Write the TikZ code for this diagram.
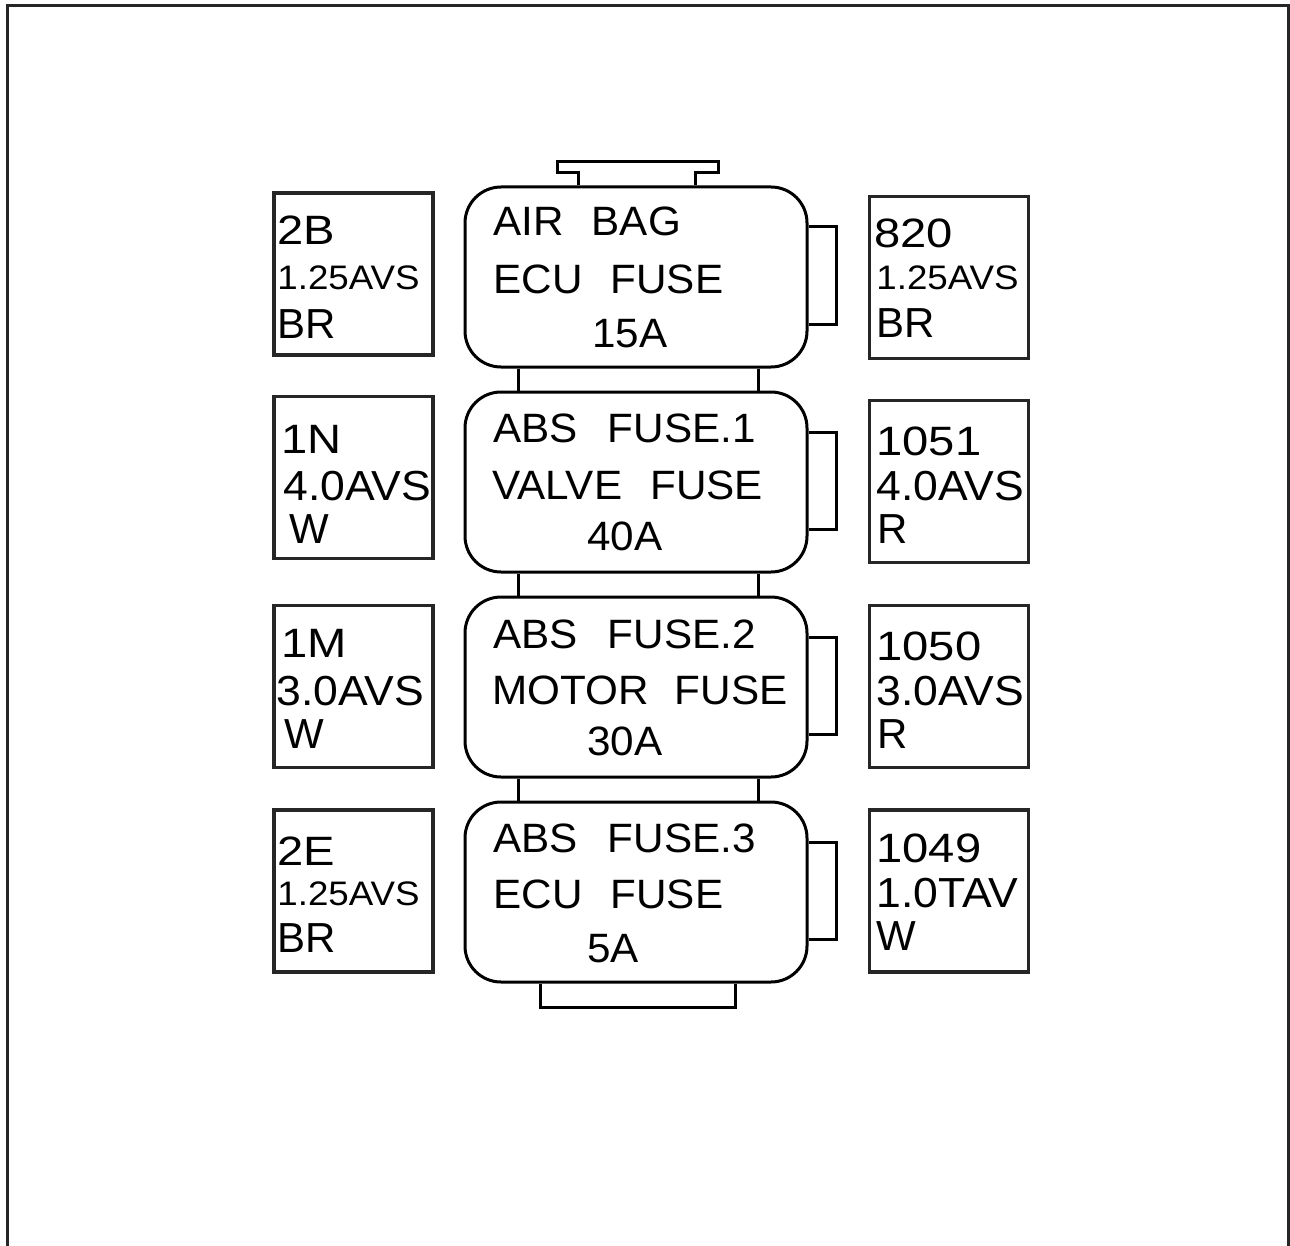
\documentclass[tikz,border=0pt]{standalone}
\usepackage{fontspec}
\setmainfont{Liberation Sans}
\newfontfamily\fuseface[FakeStretch=1.03]{Liberation Sans}
\newfontfamily\idface[FakeStretch=1.15]{Liberation Sans}
\newfontfamily\gaugeface[FakeStretch=1.06]{Liberation Sans}
\newfontfamily\smallface[FakeStretch=1.08]{Liberation Sans}
\begin{document}
\begin{tikzpicture}[x=0.5pt,y=-0.5pt,
  fuse/.style={draw, line width=1.5pt, rounded corners=18pt, minimum width=171pt, minimum height=90pt, inner sep=0pt},
  wbox/.style={draw=black!85, line width=1.7pt, minimum width=79.5pt, minimum height=81pt, inner sep=0pt},
  tab/.style={draw, line width=1.5pt, line join=miter},
  lbl/.style={anchor=base west, inner sep=0pt, font=\fuseface\fontsize{20.5}{24}\selectfont},
  idl/.style={anchor=base west, inner sep=0pt, font=\idface\fontsize{20.5}{24}\selectfont},
  big/.style={anchor=base west, inner sep=0pt, font=\gaugeface\fontsize{21}{24}\selectfont},
  col/.style={anchor=base west, inner sep=0pt, font=\fontsize{21}{24}\selectfont},
  small/.style={anchor=base west, inner sep=0pt, font=\smallface\fontsize{17}{20}\selectfont},
  frame/.style={draw=black!85, line width=1.5pt}]
\useasboundingbox (0,0) rectangle (1290,1246);
% outer frame (open at bottom)
\draw[frame] (7,1246) -- (7,6) -- (1288,6) -- (1288,1246);

% fuses
\node[fuse] (f1) at (636,277) {};
\node[fuse] (f2) at (636,482) {};
\node[fuse] (f3) at (636,687) {};
\node[fuse] (f4) at (636,892) {};

% connectors between fuses
\coordinate (cl) at (518,0);
\coordinate (cr) at (758,0);
\foreach \a/\b in {f1/f2,f2/f3,f3/f4}{
  \draw[tab] (\a.south -| cl) -- (\b.north -| cl);
  \draw[tab] (\a.south -| cr) -- (\b.north -| cr);
}

% top tab
\draw[tab] (f1.north -| 578,0) -- (578,173) -- (557,173) -- (557,162) -- (718,162) -- (718,173) -- (695,173) -- (f1.north -| 695,0);
% bottom tab
\draw[tab] (f4.south -| 540,0) -- (540,1007) -- (735,1007) -- (f4.south -| 735,0);

% right side tabs
\foreach \f in {f1,f2,f3,f4}{
  \draw[tab] ([yshift=25pt]\f.east) -- ++(28,0) -- ++(0,97) -- ++(-28,0);
}

% fuse labels
\node[lbl] (t1a) at (493,235) {AIR\hspace{14pt}BAG};
\node[lbl] (t1b) at (493,293) {ECU\hspace{14pt}FUSE};
\node[lbl] (t1c) at (592,347) {15A};
\node[lbl] (t2a) at (493,442) {ABS\hspace{15pt}FUSE.1};
\node[lbl] (t2b) at (492,499) {VALVE\hspace{14pt}FUSE};
\node[lbl] (t2c) at (587,550) {40A};
\node[lbl] (t3a) at (493,648) {ABS\hspace{15pt}FUSE.2};
\node[lbl] (t3b) at (492,704) {MOTOR\hspace{13pt}FUSE};
\node[lbl] (t3c) at (587,755) {30A};
\node[lbl] (t4a) at (493,852) {ABS\hspace{15pt}FUSE.3};
\node[lbl] (t4b) at (493,908) {ECU\hspace{14pt}FUSE};
\node[lbl] (t4c) at (587,962) {5A};

% left wire boxes
\node[wbox] (l1) at (353.5,274) {};
\node[wbox] (l2) at (353.5,477.5) {};
\node[wbox] (l3) at (353.5,686.5) {};
\node[wbox] (l4) at (353.5,891) {};
% right wire boxes
\node[wbox] (r1) at (949,277.5) {};
\node[wbox] (r2) at (949,481.5) {};
\node[wbox] (r3) at (949,686.5) {};
\node[wbox] (r4) at (949,891) {};

% left box texts
\node[idl] (l1a) at (277,245) {2B};
\node[small] (l1b) at (277,290) {1.25AVS};
\node[col] (l1c) at (277,338) {BR};
\node[idl] (l2a) at (281,453) {1N};
\node[big] (l2b) at (283,500) {4.0AVS};
\node[col] (l2c) at (289,543) {W};
\node[idl] (l3a) at (281,657) {1M};
\node[big] (l3b) at (276,705) {3.0AVS};
\node[col] (l3c) at (284,748) {W};
\node[idl] (l4a) at (277,865) {2E};
\node[small] (l4b) at (277,905) {1.25AVS};
\node[col] (l4c) at (277,952) {BR};

% right box texts
\node[idl] (r1a) at (874,248) {820};
\node[small] (r1b) at (876,290) {1.25AVS};
\node[col] (r1c) at (876,337) {BR};
\node[idl] (r2a) at (876,455) {1051};
\node[big] (r2b) at (876,500) {4.0AVS};
\node[col] (r2c) at (877,543) {R};
\node[idl] (r3a) at (876,660) {1050};
\node[big] (r3b) at (876,705) {3.0AVS};
\node[col] (r3c) at (877,748) {R};
\node[idl] (r4a) at (876,862) {1049};
\node[big] (r4b) at (876,907) {1.0TAV};
\node[col] (r4c) at (876,950) {W};
\end{tikzpicture}
\end{document}
